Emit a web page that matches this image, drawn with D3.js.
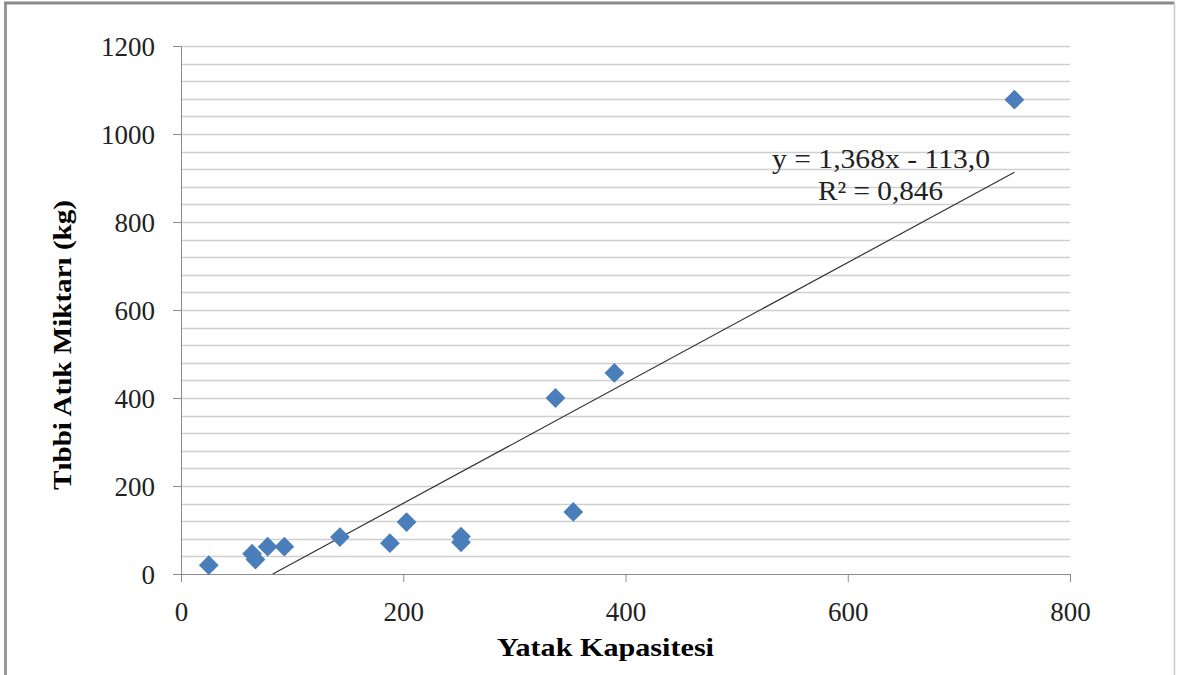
<!DOCTYPE html>
<html>
<head>
<meta charset="utf-8">
<script src="https://cdn.jsdelivr.net/npm/d3@7"></script>
<style>
  body { margin: 0; background: #fff; }
  svg { display: block; }
  text { font-family: "Liberation Serif", "Times New Roman", serif; }
</style>
</head>
<body>
<div id="chart"></div>
<script>
// bed capacity vs medical waste (kg)
var bedCapacity = [25, 64, 67, 78, 93, 143, 188, 203, 252, 252, 337, 353, 390, 750];
var wasteKg     = [20, 46, 33, 62, 62, 84, 70, 118, 85, 72, 400, 141, 457, 1078];
var xTicks = [0, 200, 400, 600, 800];
var yTicks = [0, 200, 400, 600, 800, 1000, 1200];
var slope = 1.368, intercept = -113.0;
var eqLabel = "y = 1,368x - 113,0";
var r2Label = "R\u00B2 = 0,846";

var W = 1180, H = 675;
var margin = {top: 46, right: 110, bottom: 101, left: 181},
    width = W - margin.left - margin.right,
    height = H - margin.top - margin.bottom;

var svg = d3.select("#chart")
  .append("svg")
    .attr("width", W)
    .attr("height", H);

// outer frame
svg.append("line").attr("x1", 5.5).attr("x2", 5.5).attr("y1", 2).attr("y2", H)
  .attr("stroke", "#999").attr("stroke-width", 3);
svg.append("line").attr("x1", 4).attr("x2", 1175).attr("y1", 3).attr("y2", 3)
  .attr("stroke", "#8a8a8a").attr("stroke-width", 3);
svg.append("line").attr("x1", 1174.5).attr("x2", 1174.5).attr("y1", 2).attr("y2", H)
  .attr("stroke", "#ccc").attr("stroke-width", 1.5);

var g = svg.append("g")
    .attr("transform", "translate(" + margin.left + "," + margin.top + ")");

var x = d3.scaleLinear().domain([0, 800]).range([0, width]);
var y = d3.scaleLinear().domain([0, 1200]).range([height, 0]);

// gridlines every 40
g.append("g")
  .selectAll("line")
  .data(d3.range(40, 1201, 40))
  .enter()
  .append("line")
    .attr("x1", 0)
    .attr("x2", width)
    .attr("y1", function(d) { return Math.round(y(d)) + 0.5; })
    .attr("y2", function(d) { return Math.round(y(d)) + 0.5; })
    .attr("stroke", "#cfcfcf")
    .attr("stroke-width", 1.5);

// Y axis
var yAxis = g.append("g")
  .call(d3.axisLeft(y).tickValues(yTicks).tickFormat(d3.format("d"))
    .tickSize(8).tickPadding(18).tickSizeOuter(0));
yAxis.select(".domain").attr("stroke", "#8c8c8c");
yAxis.selectAll(".tick line").attr("stroke", "#8c8c8c");
yAxis.selectAll("text")
  .style("font-family", "Liberation Serif")
  .style("font-size", "27px")
  .attr("fill", "#222")
  .attr("dy", "0.36em");

// X axis
var xAxis = g.append("g")
  .attr("transform", "translate(0," + height + ")")
  .call(d3.axisBottom(x).tickValues(xTicks).tickFormat(d3.format("d"))
    .tickSize(8).tickPadding(20).tickSizeOuter(0));
xAxis.select(".domain").attr("stroke", "#8c8c8c");
xAxis.selectAll(".tick line").attr("stroke", "#8c8c8c");
xAxis.selectAll("text")
  .style("font-family", "Liberation Serif")
  .style("font-size", "27px")
  .attr("fill", "#222");

// trend line
var x0 = -intercept / slope, x1 = d3.max(bedCapacity);
g.append("line")
  .attr("x1", x(x0)).attr("y1", y(slope * x0 + intercept))
  .attr("x2", x(x1)).attr("y2", y(slope * x1 + intercept))
  .attr("stroke", "#333")
  .attr("stroke-width", 1.2);

// points
var pts = bedCapacity.map(function(v, i) { return {cap: v, waste: wasteKg[i]}; });
g.append("g")
  .selectAll("path")
  .data(pts)
  .enter()
  .append("path")
    .attr("d", d3.symbol().type(d3.symbolDiamond2).size(250))
    .attr("transform", function(d) { return "translate(" + x(d.cap) + "," + y(d.waste) + ")"; })
    .attr("fill", "#4a7ebb");

// equation labels
g.append("text")
  .attr("x", 772 - margin.left).attr("y", 168 - margin.top)
  .attr("textLength", 218).attr("lengthAdjust", "spacingAndGlyphs")
  .style("font-size", "27px").attr("fill", "#222")
  .text(eqLabel);
g.append("text")
  .attr("x", 818 - margin.left).attr("y", 200 - margin.top)
  .attr("textLength", 125).attr("lengthAdjust", "spacingAndGlyphs")
  .style("font-size", "27px").attr("fill", "#222")
  .text(r2Label);

// axis titles
svg.append("text")
  .attr("x", 497).attr("y", 656)
  .attr("textLength", 217).attr("lengthAdjust", "spacingAndGlyphs")
  .style("font-size", "26px").style("font-weight", "bold")
  .text("Yatak Kapasitesi");

svg.append("text")
  .attr("transform", "translate(71,490) rotate(-90)")
  .attr("textLength", 290).attr("lengthAdjust", "spacingAndGlyphs")
  .style("font-size", "26px").style("font-weight", "bold")
  .text("Tıbbi Atık Miktarı (kg)");
</script>
</body>
</html>
